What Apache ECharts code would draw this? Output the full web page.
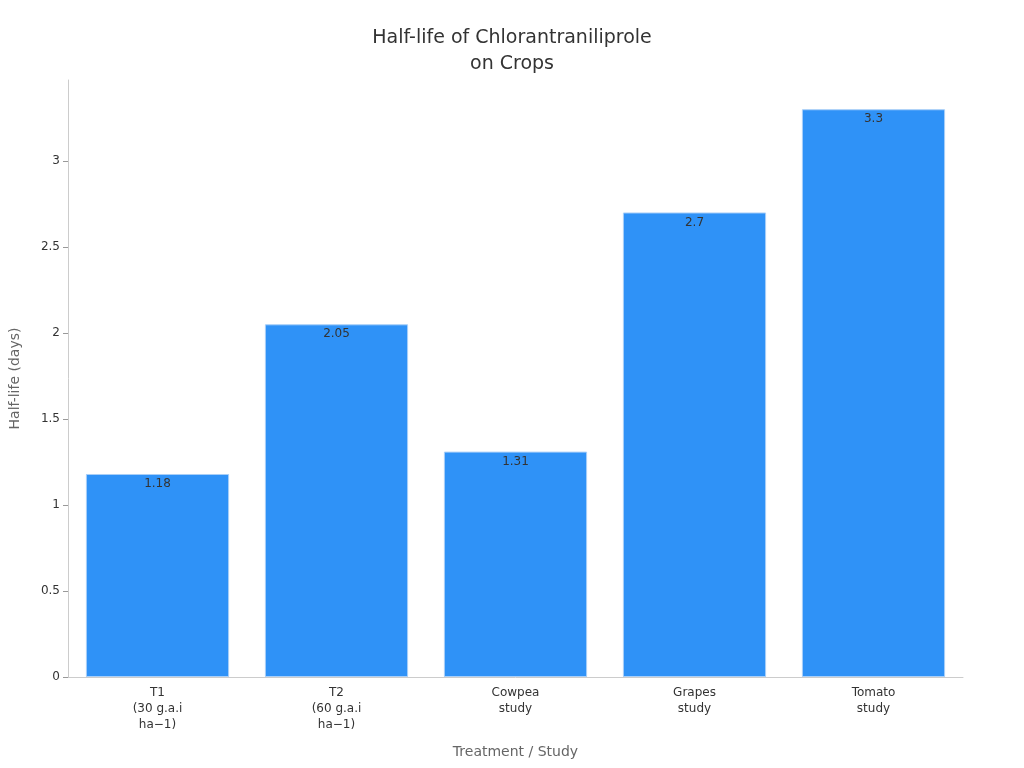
<!DOCTYPE html>
<html><head><meta charset="utf-8">
<script src="https://cdn.jsdelivr.net/npm/echarts@6/dist/echarts.min.js"></script>
<style>html,body{margin:0;padding:0;background:#fff}#c{width:1024px;height:768px}</style>
</head><body><div id="c"></div>
<script>
const categories = ["T1\n(30 g.a.i\nha\u22121)", "T2\n(60 g.a.i\nha\u22121)", "Cowpea\nstudy", "Grapes\nstudy", "Tomato\nstudy"];
const values = [1.18, 2.05, 1.31, 2.7, 3.3];
const chart = echarts.init(document.getElementById('c'));
chart.setOption({
  animation: false,
  textStyle: {fontFamily: 'DejaVu Sans'},
  title: {text: 'Half-life of Chlorantraniliprole\non Crops', left: 'center', top: 20,
    textStyle: {fontSize: 19, fontWeight: 'normal', color: '#333', lineHeight: 26, fontFamily: 'DejaVu Sans'}},
  grid: {left: 65, right: 61, top: 80, bottom: 91},
  xAxis: {type: 'category', data: categories, name: 'Treatment / Study', nameLocation: 'middle', nameGap: 68,
    nameTextStyle: {fontSize: 14, color: '#666'},
    axisLine: {lineStyle: {color: '#ccc'}}, axisTick: {show: false},
    axisLabel: {color: '#333', fontSize: 12, lineHeight: 16, interval: 0}},
  yAxis: {type: 'value', min: 0, max: 3.47, interval: 0.5, name: 'Half-life (days)', nameLocation: 'middle', nameGap: 46,
    nameTextStyle: {fontSize: 14, color: '#666'},
    axisLine: {show: true, lineStyle: {color: '#ccc'}}, axisTick: {show: true, lineStyle: {color: '#999'}},
    splitLine: {show: false}, axisLabel: {color: '#333', fontSize: 12, showMaxLabel: false}},
  series: [{type: 'bar', data: values, barCategoryGap: '20%',
    itemStyle: {color: '#2f92f7', borderColor: '#a9cff8', borderWidth: 1},
    label: {show: true, position: 'insideTop', color: '#333', fontSize: 12, distance: 4}}]
});
</script></body></html>
